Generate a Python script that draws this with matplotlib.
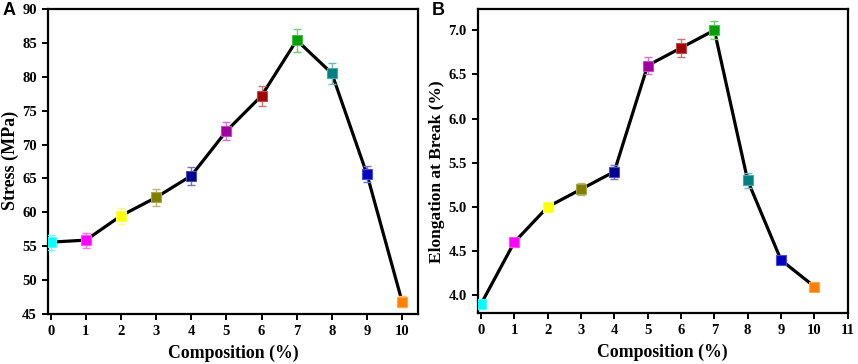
import matplotlib
matplotlib.use('Agg')
import matplotlib.pyplot as plt
import matplotlib.colors as mcolors

# data
composition = [0, 1, 2, 3, 4, 5, 6, 7, 8, 9, 10]
stress = [55.6, 55.9, 59.5, 62.2, 65.4, 72.0, 77.2, 85.4, 80.5, 65.6, 46.8]
stress_err = [1.1, 1.1, 1.2, 1.2, 1.3, 1.4, 1.5, 1.7, 1.6, 1.2, 0.8]
elong = [3.9, 4.6, 5.0, 5.2, 5.4, 6.6, 6.8, 7.0, 5.3, 4.4, 4.1]
elong_err = [0.05, 0.05, 0.06, 0.07, 0.08, 0.1, 0.1, 0.1, 0.08, 0.05, 0.03]
point_colors = ['#00ffff', '#ff00ff', '#ffff00', '#808000', '#000090', '#a000a0',
                '#a00000', '#00a000', '#008080', '#0000c0', '#ff8000']

plt.rcParams['font.family'] = 'Liberation Serif'
plt.rcParams['font.weight'] = 'bold'

fig = plt.figure(figsize=(8.58, 3.64), dpi=100)
axA = fig.add_axes([0.0559, 0.1374, 0.4312, 0.8379])
axB = fig.add_axes([0.557, 0.140, 0.431, 0.8353])


def lighten(c, amt=0.45):
    r, g, b = mcolors.to_rgb(c)
    return (r + (1 - r) * amt, g + (1 - g) * amt, b + (1 - b) * amt)


def draw(ax, y, yerr):
    ax.plot(composition, y, color='black', lw=2.3, zorder=2)
    for x, v, e, c in zip(composition, y, yerr, point_colors):
        ax.errorbar(x, v, yerr=e, fmt='none', ecolor=lighten(c), elinewidth=1,
                    capsize=3, capthick=1, zorder=3)
        ax.plot(x, v, marker='s', ms=7.5, color=c, mec=lighten(c, 0.3), mew=0.8,
                zorder=4)
    for s in ax.spines.values():
        s.set_linewidth(1.6)
    ax.tick_params(direction='out', width=1.4, length=4, labelsize=10.5, pad=4)


draw(axA, stress, stress_err)
axA.set_xlim(-0.08, 10.45)
axA.set_ylim(45, 90)
axA.set_xticks(range(0, 11))
axA.set_yticks(range(45, 91, 5))
axA.set_xlabel('Composition (%)', fontsize=12.8, fontweight='bold', labelpad=5)
axA.set_ylabel('Stress (MPa)', fontsize=13, fontweight='bold')
axA.yaxis.set_label_coords(-0.077, 0.505)
for lab in axA.get_xticklabels() + axA.get_yticklabels():
    lab.set_fontweight('bold')

draw(axB, elong, elong_err)
axB.set_xlim(-0.09, 10.96)
axB.set_ylim(3.8, 7.24)
axB.set_xticks(range(0, 12))
axB.set_yticks([4.0, 4.5, 5.0, 5.5, 6.0, 6.5, 7.0])
axB.set_yticklabels(['4.0', '4.5', '5.0', '5.5', '6.0', '6.5', '7.0'])
axB.set_xlabel('Composition (%)', fontsize=12.8, fontweight='bold', labelpad=5)
axB.set_ylabel('Elongation at Break (%)', fontsize=12.5, fontweight='bold')
axB.yaxis.set_label_coords(-0.088, 0.465)
for lab in axB.get_xticklabels() + axB.get_yticklabels():
    lab.set_fontweight('bold')

fig.text(0.0035, 0.97, 'A', fontsize=13, fontweight='bold', family='Liberation Sans', va='center')
fig.text(0.5035, 0.97, 'B', fontsize=13, fontweight='bold', family='Liberation Sans', va='center')

fig.savefig('out.png', dpi=100)
